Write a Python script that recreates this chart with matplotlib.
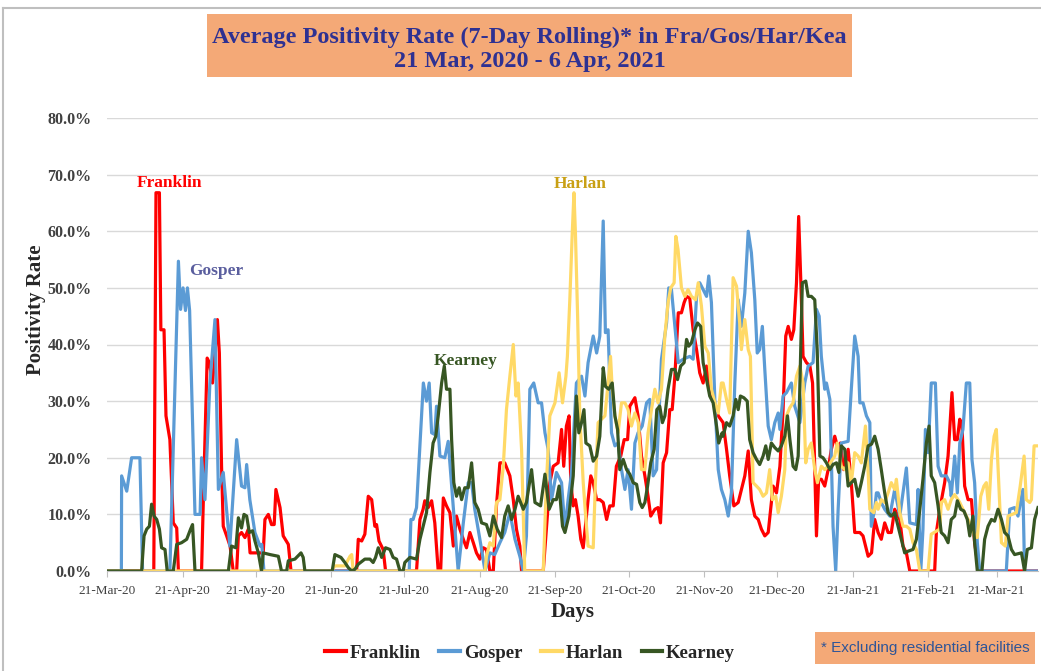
import matplotlib
matplotlib.use("Agg")
import matplotlib.pyplot as plt
import matplotlib.dates as mdates
import matplotlib.ticker as mticker
from matplotlib.patches import Rectangle
from matplotlib.lines import Line2D
import numpy as np

# (days since 21-Mar-2020, 7-day rolling positivity %)
franklin = [(0,0),(19.2,0),(20.1,66.8),(21.5,66.8),(22.1,42.6),(23.4,42.6),(24.2,27.4),(25.8,23.2),(27.2,8.5),(28.6,7.6),(29.3,0),
    (38.8,0),(39.5,12.1),(41.1,37.6),(42.0,36.8),(43.3,33.2),(44.3,38.5),(45.3,44.4),(46.1,38.5),(47.0,18.5),(47.7,7.9),(49.1,6.2),(50.5,4.4),(51.8,0),
    (53.2,0),(53.9,6.2),(55.2,6.8),(56.6,5.9),(58.0,7.4),(58.7,3.2),(61.4,3.2),(64.1,3.2),(64.8,9.1),(66.2,10.0),(67.5,8.2),(68.6,8.2),(69.3,14.4),(71.0,11.2),(72.3,6.2),(74.4,4.7),(75.5,0),
    (102.4,0),(103.1,5.6),(104.5,5.3),(105.8,6.5),(107.2,13.2),(108.6,12.6),(109.9,7.9),(110.6,8.2),(111.6,5.3),(113.3,3.8),(114.3,0),
    (127.0,0),(128.4,9.1),(129.7,10.9),(130.4,12.4),(131.8,11.2),(133.2,12.4),(134.5,8.5),(135.9,0),(136.9,0),(138.0,12.9),(139.3,11.5),(140.7,10.3),(142.1,4.4),(143.4,9.7),(144.8,7.4),(146.2,5.6),(147.5,4.1),(148.9,6.8),(150.3,5.0),(151.6,3.2),(153.0,2.1),(154.4,4.1),(155.7,3.8),(157.1,0),(158.5,0),(159.8,11.5),(161.2,19.1),(163.2,19.1),(165.3,16.8),(166.7,12.6),(168.0,7.4),(169.4,4.4),(170.1,0),
    (179.0,0),(181.7,15.6),(183.1,18.5),(185.1,19.1),(186.5,25.0),(187.4,18.5),(188.5,25.6),(189.6,27.4),(190.3,15.6),(191.3,11.5),(192.2,12.6),(193.3,9.7),(194.4,5.6),(195.4,4.1),(196.3,7.9),(197.4,12.6),(198.5,16.8),(199.5,15.6),(200.9,12.6),(202.2,12.6),(203.6,12.1),(205.0,9.1),(206.3,11.5),(207.7,11.5),(209.0,18.5),(210.8,20.3),(212.2,23.2),(213.6,23.2),(214.5,29.1),(216.6,30.6),(217.9,27.4),(219.3,20.3),(220.7,16.8),(222.0,13.2),(223.1,9.7),(224.8,10.9),(226.1,11.2),(227.1,8.5),(228.2,19.1),(229.6,20.9),(230.9,28.5),(231.9,28.5),(233.0,34.4),(234.4,45.6),(235.7,45.6),(236.8,47.4),(237.8,48.5),(239.1,48.2),(240.5,42.6),(241.9,39.1),(243.2,35.0),(244.6,33.2),(246.0,36.2),(247.3,32.1),(249.4,29.1),(250.8,27.4),(252.8,26.2),(254.2,21.5),(255.5,16.8),(257.2,11.5),(259.0,12.1),(260.3,14.4),(261.7,16.8),(263.1,21.2),(264.4,12.6),(265.8,9.7),(267.2,9.1),(268.5,7.4),(269.9,6.2),(271.3,6.8),(272.6,12.1),(273.3,15.0),(274.7,13.8),(276.1,18.5),(277.4,28.5),(278.5,41.5),(279.5,43.2),(280.8,40.9),(281.8,42.6),(282.9,50.9),(283.8,62.6),(284.7,50.9),(285.6,37.9),(287.0,36.8),(288.4,36.2),(289.5,33.2),(290.4,17.9),(291.1,6.2),(292.0,16.2),(293.1,16.2),(294.5,15.0),(295.9,17.9),(297.2,21.5),(298.6,23.8),(300.0,21.5),(300.9,22.6),(302.3,17.9),(304.1,21.5),(305.4,15.6),(306.8,6.8),(308.9,6.8),(310.2,6.2),(312.3,2.6),(313.7,3.2),(315.0,9.1),(316.4,6.8),(317.7,5.6),(319.1,8.5),(320.5,6.8),(321.8,6.8),(323.2,10.9),(325.3,9.1),(326.6,4.4),(328.0,3.2),(329.4,0),
    (339.6,0),(340.3,6.8),(341.7,10.9),(343.7,15.6),(345.1,20.3),(346.7,31.5),(347.8,23.2),(348.9,23.2),(349.9,26.8),(350.8,25.6),(351.9,15.0),(353.3,12.6),(354.7,12.6),(356.0,5.0),(357.7,0),(382,0)]

gosper = [(0,0),(5.9,0),(6.0,16.8),(8.1,14.1),(10.1,20.0),(13.5,20.0),(14.6,0),(25.8,0),(29.3,54.7),(30.2,46.2),(31.2,50.0),(32.2,46.0),(33.0,50.0),(33.9,46.0),(36.1,10.0),(38.2,10.0),(38.8,20.0),(40.2,12.6),(42.2,33.0),(44.3,44.4),(45.7,14.4),(47.7,17.4),(50.4,4.4),(53.2,23.2),(55.2,15.0),(56.6,14.7),(57.3,18.8),(58.6,12.6),(60.7,6.8),(62.8,4.4),(63.5,4.7),(64.4,0),
    (124.0,0),(124.7,9.1),(125.6,9.1),(127.0,11.2),(129.8,33.2),(131.1,30.0),(132.2,33.2),(133.2,24.4),(134.5,24.1),(135.2,29.1),(136.6,20.3),(138.6,20.0),(140.0,22.9),(141.4,15.0),(144.1,0),(146.2,8.5),(148.2,15.6),(149.6,15.6),(150.9,10.9),(152.3,7.4),(153.7,3.8),(155.1,0),(157.1,3.2),(159.1,2.9),(161.2,5.0),(163.2,6.8),(165.3,10.3),(167.4,5.6),(169.4,2.6),(170.8,0),(172.1,6.2),(173.5,32.1),(175.1,33.2),(176.9,29.7),(178.3,29.7),(179.7,24.4),(181.0,21.5),(182.4,12.6),(184.4,17.4),(186.5,15.6),(187.9,7.4),(189.2,12.6),(190.6,17.4),(192.6,33.2),(194.7,34.4),(196.1,30.9),(197.4,36.8),(199.5,41.5),(200.9,38.5),(202.2,41.5),(203.6,61.8),(204.5,42.1),(205.6,42.6),(207.0,24.4),(208.4,22.1),(209.7,22.6),(211.1,17.9),(212.5,14.4),(213.8,17.9),(215.2,10.9),(216.6,22.6),(217.9,24.4),(219.6,25.6),(221.4,29.7),(222.7,30.3),(224.1,16.8),(225.5,17.9),(227.5,37.4),(229.6,43.8),(230.5,50.0),(231.6,49.7),(233.0,43.2),(234.4,36.8),(236.4,37.4),(239.1,37.9),(240.5,37.4),(241.9,48.5),(243.2,50.9),(246.0,48.5),(246.9,52.1),(248.0,47.4),(249.4,30.3),(250.8,17.9),(252.1,14.4),(253.5,12.6),(254.9,9.7),(256.2,13.8),(257.6,33.2),(259.0,47.9),(260.3,43.2),(261.7,49.1),(263.1,60.0),(264.4,56.2),(265.8,47.9),(266.8,38.5),(267.8,39.1),(268.9,43.2),(269.9,35.6),(271.3,25.6),(272.6,23.2),(274.0,26.2),(275.4,27.9),(276.1,25.0),(277.4,30.9),(278.8,31.5),(280.8,33.2),(282.2,29.1),(284.3,26.2),(286.3,33.2),(287.7,36.2),(289.7,36.8),(291.1,46.2),(292.2,45.0),(293.1,37.9),(294.5,32.1),(295.2,33.2),(296.6,30.3),(297.9,7.9),(299.0,0),(300.0,10.9),(301.3,22.6),(304.1,22.9),(305.4,32.1),(306.8,41.5),(308.2,37.9),(308.9,29.7),(310.2,29.7),(311.6,27.4),(313.0,26.2),(313.6,7.9),(315.0,10.9),(315.7,13.8),(316.4,13.8),(317.7,12.1),(319.1,10.9),(321.2,9.7),(323.2,14.4),(325.3,9.7),(326.6,13.8),(328.0,18.2),(329.4,8.5),(332.1,8.2),(332.8,14.4),(333.9,0),(334.8,7.4),(335.8,25.0),(336.9,20.9),(338.2,33.2),(339.9,33.2),(341.0,18.5),(342.3,16.8),(344.4,16.8),(345.8,15.6),(346.4,13.2),(347.8,20.3),(348.9,13.8),(349.9,22.6),(351.2,25.0),(352.6,33.2),(354.0,33.2),(354.9,19.7),(356.0,15.6),(357.1,5.0),(358.1,0),(369.0,0),(370.4,10.9),(372.4,11.2),(373.8,9.7),(375.8,14.4),(376.5,0),(382,0)]

harlan = [(0,0),(92.0,0),(93.5,0.9),(97.6,0.9),(99.7,2.6),(100.4,2.9),(101.0,0),(155.1,0),(155.7,2.6),(157.1,5.0),(158.5,4.4),(159.8,12.1),(161.2,12.6),(162.6,18.5),(163.9,28.5),(165.3,34.4),(166.7,40.0),(167.8,30.9),(168.7,33.2),(170.1,21.5),(171.4,0),
    (179.0,0),(180.3,15.6),(181.7,27.4),(183.8,29.7),(185.5,35.0),(186.9,29.7),(188.3,34.4),(188.9,37.9),(189.9,47.9),(190.9,59.7),(191.6,66.8),(192.2,59.7),(193.1,45.0),(194.0,27.4),(195.4,15.6),(196.3,10.3),(197.4,4.4),(199.5,4.1),(200.4,15.6),(201.5,26.2),(204.3,27.4),(205.6,33.2),(206.6,37.9),(207.3,32.1),(208.4,27.4),(209.7,24.4),(211.1,29.7),(212.5,29.7),(213.8,28.5),(215.2,25.6),(216.6,27.9),(218.0,26.2),(219.3,17.9),(220.7,17.9),(222.0,24.4),(223.4,28.5),(224.8,32.1),(226.1,29.7),(227.5,32.1),(228.9,41.5),(230.2,47.4),(231.3,50.0),(232.7,50.9),(233.4,59.1),(234.3,56.8),(235.7,50.0),(237.1,48.5),(238.4,49.7),(239.8,48.5),(241.5,47.9),(242.6,50.9),(243.9,46.8),(245.3,39.7),(246.7,38.5),(248.0,32.1),(249.4,29.7),(250.8,27.9),(252.1,33.2),(252.8,33.2),(254.2,30.3),(255.5,27.9),(256.9,51.8),(258.3,50.3),(259.6,43.8),(260.3,39.1),(261.7,44.4),(263.1,39.1),(264.0,37.9),(265.1,15.6),(266.5,15.0),(267.8,14.4),(269.2,13.2),(270.6,13.8),(271.9,17.9),(273.0,12.6),(274.4,13.2),(275.4,10.3),(276.7,13.2),(278.1,17.9),(278.8,27.4),(280.1,28.8),(281.5,29.7),(282.9,34.4),(284.3,36.2),(285.6,33.2),(286.7,19.1),(287.7,21.5),(289.0,22.6),(290.4,17.9),(291.5,15.6),(293.1,18.5),(294.5,17.9),(295.9,18.5),(298.6,20.3),(299.6,22.6),(301.3,18.5),(302.7,17.9),(304.1,19.1),(305.4,15.6),(306.8,20.9),(308.2,20.3),(309.5,19.1),(311.2,25.6),(312.3,17.4),(313.0,10.9),(314.6,10.3),(315.7,12.1),(316.4,10.9),(317.7,12.6),(319.1,12.1),(320.5,13.8),(321.8,15.6),(323.2,14.4),(323.9,16.2),(325.3,10.3),(326.6,7.9),(328.0,7.9),(329.4,7.4),(330.7,5.0),(332.1,3.8),(333.5,0),
    (336.9,0),(338.2,6.5),(341.7,7.4),(342.3,12.1),(343.7,12.6),(345.1,10.9),(346.4,12.6),(347.8,13.5),(349.9,12.1),(351.2,10.9),(352.6,9.7),(354.0,8.5),(356.0,6.2),(357.1,5.9),(358.5,13.2),(359.8,15.0),(360.8,15.6),(361.8,10.9),(362.9,19.7),(364.0,23.8),(364.9,25.0),(365.9,15.6),(367.0,5.0),(368.6,4.4),(369.7,9.7),(373.1,10.3),(374.7,15.0),(376.3,20.3),(377.2,12.6),(378.6,12.1),(379.3,12.6),(380.4,22.1),(382,22.1)]

kearney = [(0,0),(14.2,0),(15.2,6.2),(16.3,7.4),(17.4,7.9),(18.3,11.8),(19.3,9.7),(20.4,9.1),(21.5,7.4),(22.4,4.1),(23.8,3.8),(24.7,0),(27.2,0),(28.6,4.7),(30.6,5.0),(32.7,5.6),(34.3,7.4),(35.1,8.2),(36.1,0),
    (49.8,0),(51.1,4.4),(52.9,4.1),(53.9,9.4),(55.2,7.6),(56.2,10.0),(57.3,9.7),(58.4,6.8),(59.7,7.1),(60.7,5.3),(62.1,3.2),(62.8,1.5),(63.4,0),(64.1,3.2),(66.9,2.9),(70.3,2.6),(71.6,0),(73.7,0),(74.4,1.8),(77.1,2.1),(79.6,3.2),(80.5,2.4),(81.2,0),
    (92.4,0),(93.5,2.9),(96.0,2.4),(97.6,1.5),(99.0,0.6),(100.4,0),(101.7,0.3),(103.1,1.2),(105.8,2.1),(107.9,2.1),(109.2,1.5),(110.2,2.4),(111.3,4.1),(112.7,2.4),(114.3,4.1),(116.1,3.8),(117.4,2.4),(118.8,2.1),(120.2,0),(121.5,0),(122.2,1.5),(124.3,2.4),
    (127.0,2.1),(128.4,5.6),(129.7,7.9),(131.1,10.3),(132.5,17.4),(133.8,22.6),(134.9,23.8),(135.9,27.4),(137.3,33.2),(138.4,36.2),(139.3,32.1),(140.7,32.1),(141.4,23.2),(142.3,15.6),(143.4,13.2),(144.5,14.7),(145.5,12.6),(146.8,14.7),(148.2,14.7),(149.6,19.1),(150.9,12.1),(152.3,10.9),(153.7,8.5),(155.7,8.2),(157.1,6.2),(158.5,9.7),(160.1,7.4),(161.9,5.9),(163.2,9.7),(164.6,11.5),(166.0,9.1),(167.4,10.9),(168.7,13.2),(170.8,10.9),(172.1,12.1),(174.2,17.9),(175.6,12.1),(177.9,11.5),(179.7,17.1),(181.4,10.9),(183.1,12.6),(184.4,12.6),(185.5,15.0),(186.9,7.9),(187.9,6.8),(189.5,9.7),(191.3,16.8),(192.6,30.9),(193.6,24.4),(194.7,26.2),(195.7,28.5),(196.5,22.6),(198.1,22.1),(199.5,19.4),(200.9,20.3),(202.2,23.8),(203.6,35.9),(204.5,32.6),(205.9,32.1),(207.3,33.2),(208.4,27.4),(209.5,25.0),(210.4,17.9),(211.8,19.7),(213.2,17.9),(214.5,17.1),(215.9,15.6),(217.3,15.3),(218.6,12.1),(219.6,11.2),(220.7,12.1),(221.8,15.0),(223.1,19.1),(224.5,21.5),(225.6,28.5),(226.8,29.1),(227.9,26.2),(228.9,27.4),(230.2,32.1),(231.6,35.6),(233.0,35.6),(234.1,33.8),(235.4,36.2),(236.8,36.8),(237.8,40.9),(238.7,39.7),(239.8,40.3),(241.2,42.6),(242.3,43.8),(243.6,43.2),(244.6,36.8),(246.0,33.8),(247.3,30.9),(248.7,29.7),(250.1,25.6),(251.0,22.6),(252.4,24.4),(252.8,23.8),(254.2,26.2),(255.5,25.6),(256.9,27.4),(258.0,30.3),(259.0,28.5),(259.9,30.9),(261.3,30.6),(262.7,30.0),(263.7,23.2),(265.1,20.9),(266.5,19.7),(267.8,18.8),(269.2,20.3),(270.3,22.1),(271.3,19.7),(272.6,22.6),(274.0,21.8),(275.4,21.2),(276.7,22.1),(278.1,23.8),(279.2,27.4),(280.2,23.2),(281.5,18.5),(282.6,17.9),(283.6,20.3),(284.5,36.2),(285.3,50.9),(286.7,51.2),(287.7,48.5),(289.0,48.5),(290.4,47.9),(291.4,39.1),(292.5,20.3),(293.8,20.0),(295.2,19.1),(296.6,17.9),(297.9,18.8),(299.3,19.1),(300.3,17.4),(301.3,22.1),(302.7,21.5),(304.1,15.0),(305.4,15.6),(306.8,16.2),(308.2,13.2),(309.5,15.6),(310.9,18.5),(312.3,22.1),(313.7,22.4),(315.0,23.8),(316.4,21.5),(317.7,17.9),(319.1,13.8),(320.5,10.3),(321.8,9.7),(323.2,10.3),(324.6,7.9),(325.9,5.6),(327.3,3.2),(328.7,3.5),(330.7,3.8),(332.1,5.6),(333.5,10.9),(334.8,16.2),(336.2,22.6),(337.3,25.6),(338.2,16.8),(339.6,15.6),(341.0,11.5),(342.3,6.8),(343.7,6.2),(345.1,5.0),(346.4,9.1),(347.8,9.7),(348.9,12.4),(350.3,10.9),(351.6,10.6),(353.0,9.1),(354.0,6.2),(355.3,9.7),(356.0,5.0),(357.1,0),(359.0,0),(360.1,5.6),(361.5,7.9),(362.9,9.1),(364.2,8.8),(365.6,10.9),(367.0,9.1),(368.3,6.8),(369.7,6.2),(371.1,3.8),(372.4,2.9),(375.2,3.2),(376.5,0),(377.6,3.8),(379.3,4.1),(380.6,9.1),(382,11.2)]

names = ['Franklin', 'Gosper', 'Harlan', 'Kearney']
colors = ['#FF0000', '#5B9BD5', '#FFD966', '#375623']
label_colors = ['#FF0000', '#5A5E9E', '#C9A014', '#375623']
# where the county names sit (day, %)
label_pos = [(25.8, 68.6), (44.7, 53.0), (194.0, 68.4), (147.3, 37.1)]

start = mdates.date2num(np.datetime64('2020-03-21'))

plt.rcParams['font.family'] = ['Liberation Serif', 'DejaVu Serif']

W, H = 1041, 671
fig = plt.figure(figsize=(W / 100, H / 100), dpi=100)
ax = fig.add_axes([107 / W, 1 - 571 / H, (1038 - 107) / W, (571 - 118) / H])

series = [franklin, gosper, harlan, kearney]
for s, name, c in zip(series, names, colors):
    d, v = zip(*s)
    ax.plot(start + np.array(d), v, color=c, lw=2.3, solid_joinstyle='round')

for name, c, (d, v) in zip(names, label_colors, label_pos):
    ax.text(start + d, v, name, color=c, fontsize=12.5, fontweight='bold',
            ha='center', va='center')

ax.set_ylim(0, 80)
ax.set_xlim(start, start + 382)
ax.yaxis.set_major_locator(mticker.MultipleLocator(10))
ax.yaxis.set_major_formatter(mticker.StrMethodFormatter('{x:.1f}%'))
ax.xaxis.set_major_locator(mdates.MonthLocator(bymonthday=21))
ax.xaxis.set_major_formatter(mdates.DateFormatter('%d-%b-%y'))
ax.grid(axis='y', color='#D9D9D9', lw=1)
ax.set_axisbelow(True)
for sp in ['top', 'right', 'left']:
    ax.spines[sp].set_visible(False)
ax.spines['bottom'].set_color('#BFBFBF')
ax.tick_params(axis='y', length=0, pad=11, labelsize=11.5, labelcolor='#404040')
ax.tick_params(axis='x', length=4, color='#BFBFBF', pad=6, labelsize=9.5, labelcolor='#404040')
for t in ax.get_yticklabels():
    t.set_fontweight('bold')

ax.set_xlabel('Days', fontsize=15, fontweight='bold', color='#262626', labelpad=4)
ax.set_ylabel('Positivity Rate', fontsize=15, fontweight='bold', color='#262626')
ax.yaxis.set_label_coords(-0.0655, 0.576)

# title box
fig.patches.append(Rectangle((207 / W, 1 - 77 / H), (852 - 207) / W, 63 / H,
                             transform=fig.transFigure, facecolor='#F4A977', edgecolor='none'))
fig.text(529.5 / W, 1 - 37 / H, 'Average Positivity Rate (7-Day Rolling)* in Fra/Gos/Har/Kea',
         ha='center', va='center', fontsize=17.5, fontweight='bold', color='#2E3192')
fig.text(529.5 / W, 1 - 61 / H, '21 Mar, 2020 - 6 Apr, 2021',
         ha='center', va='center', fontsize=17.5, fontweight='bold', color='#2E3192')

# note box
fig.patches.append(Rectangle((815 / W, 1 - 664 / H), 220 / W, 32 / H,
                             transform=fig.transFigure, facecolor='#F4A977', edgecolor='none'))
fig.text(925 / W, 1 - 648 / H, '* Excluding residential facilities', ha='center', va='center',
         fontsize=11, color='#2F5597', family=['Liberation Sans Narrow', 'Liberation Sans'])

# outer frame
fig.add_artist(Line2D([3 / W, 1], [1 - 8 / H, 1 - 8 / H], transform=fig.transFigure, color='#BFBFBF', lw=1.5))
fig.add_artist(Line2D([3 / W, 3 / W], [0, 1 - 8 / H], transform=fig.transFigure, color='#BFBFBF', lw=1.5))

handles = [Line2D([], [], color=c, lw=3) for c in colors]
fig.legend(handles, names, loc='center', bbox_to_anchor=(530 / W, 1 - 653 / H), ncol=4,
           frameon=False, handlelength=1.1, handletextpad=0.2, columnspacing=1.0,
           prop={'size': 13.5, 'weight': 'bold'}, labelcolor='#262626')

fig.savefig('out.png', dpi=100)
